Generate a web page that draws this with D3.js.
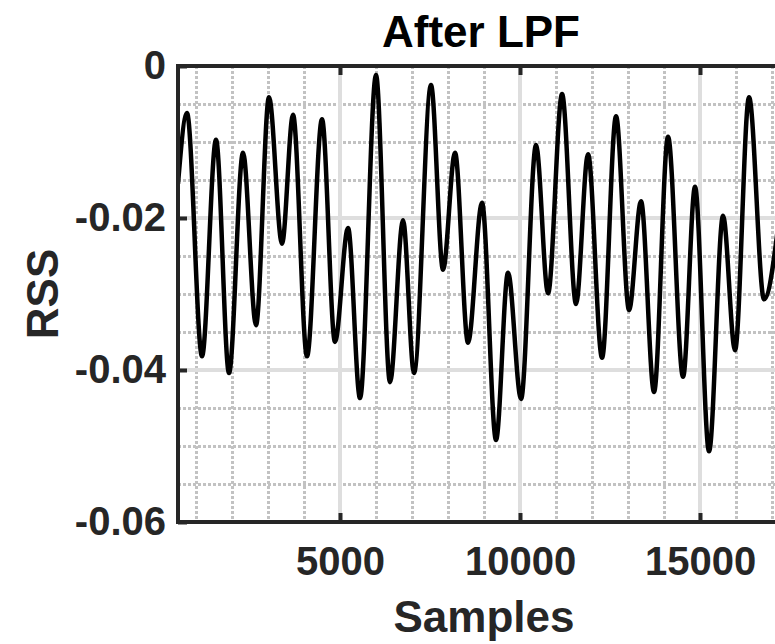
<!DOCTYPE html>
<html>
<head>
<meta charset="utf-8">
<script src="https://cdn.jsdelivr.net/npm/d3@7"></script>
<style>
    body { margin: 0; background: #fff; }
    svg { display: block; }
    text { font-family: "Liberation Sans", Arial, Helvetica, sans-serif; font-weight: bold; }
</style>
</head>
<body>
<div id="chart"></div>
<script>
// extrema of the filtered signal
const samples = [500, 750, 1167, 1556, 1917, 2306, 2667, 3028, 3389, 3695,
    4084, 4500, 4861, 5223, 5556, 6000, 6389, 6751, 7056, 7528,
    7862, 8195, 8556, 8945, 9334, 9667, 10029, 10445, 10779, 11168,
    11556, 11890, 12279, 12668, 13029, 13362, 13723, 14112, 14529, 14862,
    15251, 15640, 15973, 16362, 16779, 17224];
const rss = [-0.0155, -0.0062, -0.0382, -0.0097, -0.0404, -0.0114, -0.0341, -0.0041, -0.0234, -0.0064,
    -0.0382, -0.0070, -0.0363, -0.0213, -0.0437, -0.0012, -0.0416, -0.0203, -0.0404, -0.0025,
    -0.0268, -0.0114, -0.0364, -0.0180, -0.0492, -0.0272, -0.0438, -0.0104, -0.0299, -0.0037,
    -0.0313, -0.0116, -0.0384, -0.0066, -0.0321, -0.0178, -0.0429, -0.0093, -0.0409, -0.0159,
    -0.0507, -0.0197, -0.0374, -0.0041, -0.0307, -0.0190];
const xTicks = [5000, 10000, 15000];
const yTicks = [0, -0.02, -0.04, -0.06];
const xMinorTicks = [1000, 2000, 3000, 4000, 6000, 7000, 8000, 9000,
    11000, 12000, 13000, 14000, 16000, 17000];
const yMinorTicks = [-0.005, -0.01, -0.015, -0.025, -0.03, -0.035, -0.045, -0.05, -0.055];

const config = {
    width: 775,
    height: 644,
    left: 178,
    top: 66,
    bottom: 522,
    pxPerSample: 0.036,
    xMin: 500,
    xMax: 17100,
    axisColor: '#262626'
};

const data = samples.map((s, i) => ({ s: s, v: rss[i] }));

const x = d3.scaleLinear()
    .domain([config.xMin, config.xMax])
    .range([config.left, config.left + (config.xMax - config.xMin) * config.pxPerSample]);
const y = d3.scaleLinear()
    .domain([-0.06, 0])
    .range([config.bottom, config.top]);

// snap 3px lines onto whole pixels so the dots stay crisp
const crisp = v => Math.round(v) + 0.5;

const svg = d3.select('#chart').append('svg')
    .attr('width', config.width)
    .attr('height', config.height);

svg.append('clipPath').attr('id', 'plot-clip')
    .append('rect')
        .attr('x', config.left)
        .attr('y', config.top)
        .attr('width', config.width - config.left)
        .attr('height', config.bottom - config.top);

// minor grid (dotted)
const grid = svg.append('g');
grid.selectAll('.xminor')
        .data(xMinorTicks)
    .enter().append('line')
        .attr('x1', d => crisp(x(d))).attr('x2', d => crisp(x(d)))
        .attr('y1', config.top).attr('y2', config.bottom)
        .attr('stroke', '#c2c2c2')
        .attr('stroke-width', 3)
        .attr('stroke-dasharray', '3,2');
grid.selectAll('.yminor')
        .data(yMinorTicks)
    .enter().append('line')
        .attr('x1', config.left).attr('x2', config.width)
        .attr('y1', d => crisp(y(d))).attr('y2', d => crisp(y(d)))
        .attr('stroke', '#c2c2c2')
        .attr('stroke-width', 3)
        .attr('stroke-dasharray', '3,2');

// major grid (solid)
grid.selectAll('.xmajor')
        .data(xTicks)
    .enter().append('line')
        .attr('x1', d => x(d)).attr('x2', d => x(d))
        .attr('y1', config.top).attr('y2', config.bottom)
        .attr('stroke', '#dedede')
        .attr('stroke-width', 4);
grid.selectAll('.ymajor')
        .data(yTicks.slice(1, 3))
    .enter().append('line')
        .attr('x1', config.left).attr('x2', config.width)
        .attr('y1', d => y(d)).attr('y2', d => y(d))
        .attr('stroke', '#dedede')
        .attr('stroke-width', 4);

// the signal
const line = d3.line()
    .x(d => x(d.s))
    .y(d => y(d.v))
    .curve(d3.curveMonotoneX);

svg.append('path')
    .datum(data)
    .attr('clip-path', 'url(#plot-clip)')
    .attr('d', line)
    .attr('fill', 'none')
    .attr('stroke', '#000')
    .attr('stroke-width', 4.5)
    .attr('stroke-linejoin', 'round');

// x axis (bottom + top ticks)
const xAxis = svg.append('g')
    .attr('transform', 'translate(0,' + config.bottom + ')')
    .call(d3.axisBottom(x).tickValues(xTicks).tickSize(-9).tickPadding(25)
        .tickFormat(d3.format('d')));
const xAxisTop = svg.append('g')
    .attr('transform', 'translate(0,' + config.top + ')')
    .call(d3.axisTop(x).tickValues(xTicks).tickSize(-9).tickFormat(''));

// y axis
const yAxis = svg.append('g')
    .attr('transform', 'translate(' + config.left + ',0)')
    .call(d3.axisLeft(y).tickValues(yTicks).tickSize(-9).tickPadding(12)
        .tickFormat(d => d === 0 ? '0' : d.toFixed(2)));

[xAxis, xAxisTop, yAxis].forEach(g => {
    g.select('.domain').remove();
    g.selectAll('.tick line')
        .attr('stroke', config.axisColor)
        .attr('stroke-width', 4);
    g.selectAll('.tick text')
        .attr('fill', config.axisColor)
        .style('font-size', '40px');
});

// box
svg.append('path')
    .attr('d', 'M' + config.width + ',' + config.top
        + 'H' + config.left + 'V' + config.bottom + 'H' + config.width)
    .attr('fill', 'none')
    .attr('stroke', config.axisColor)
    .attr('stroke-width', 4);

// labels
svg.append('text')
    .attr('x', 481)
    .attr('y', 47)
    .attr('text-anchor', 'middle')
    .attr('fill', '#000')
    .style('font-size', '44px')
    .text('After LPF');

svg.append('text')
    .attr('x', 484)
    .attr('y', 632)
    .attr('text-anchor', 'middle')
    .attr('fill', config.axisColor)
    .style('font-size', '44px')
    .text('Samples');

svg.append('text')
    .attr('transform', 'translate(58,' + ((config.top + config.bottom) / 2) + ') rotate(-90)')
    .attr('text-anchor', 'middle')
    .attr('fill', config.axisColor)
    .style('font-size', '44px')
    .text('RSS');
</script>
</body>
</html>
